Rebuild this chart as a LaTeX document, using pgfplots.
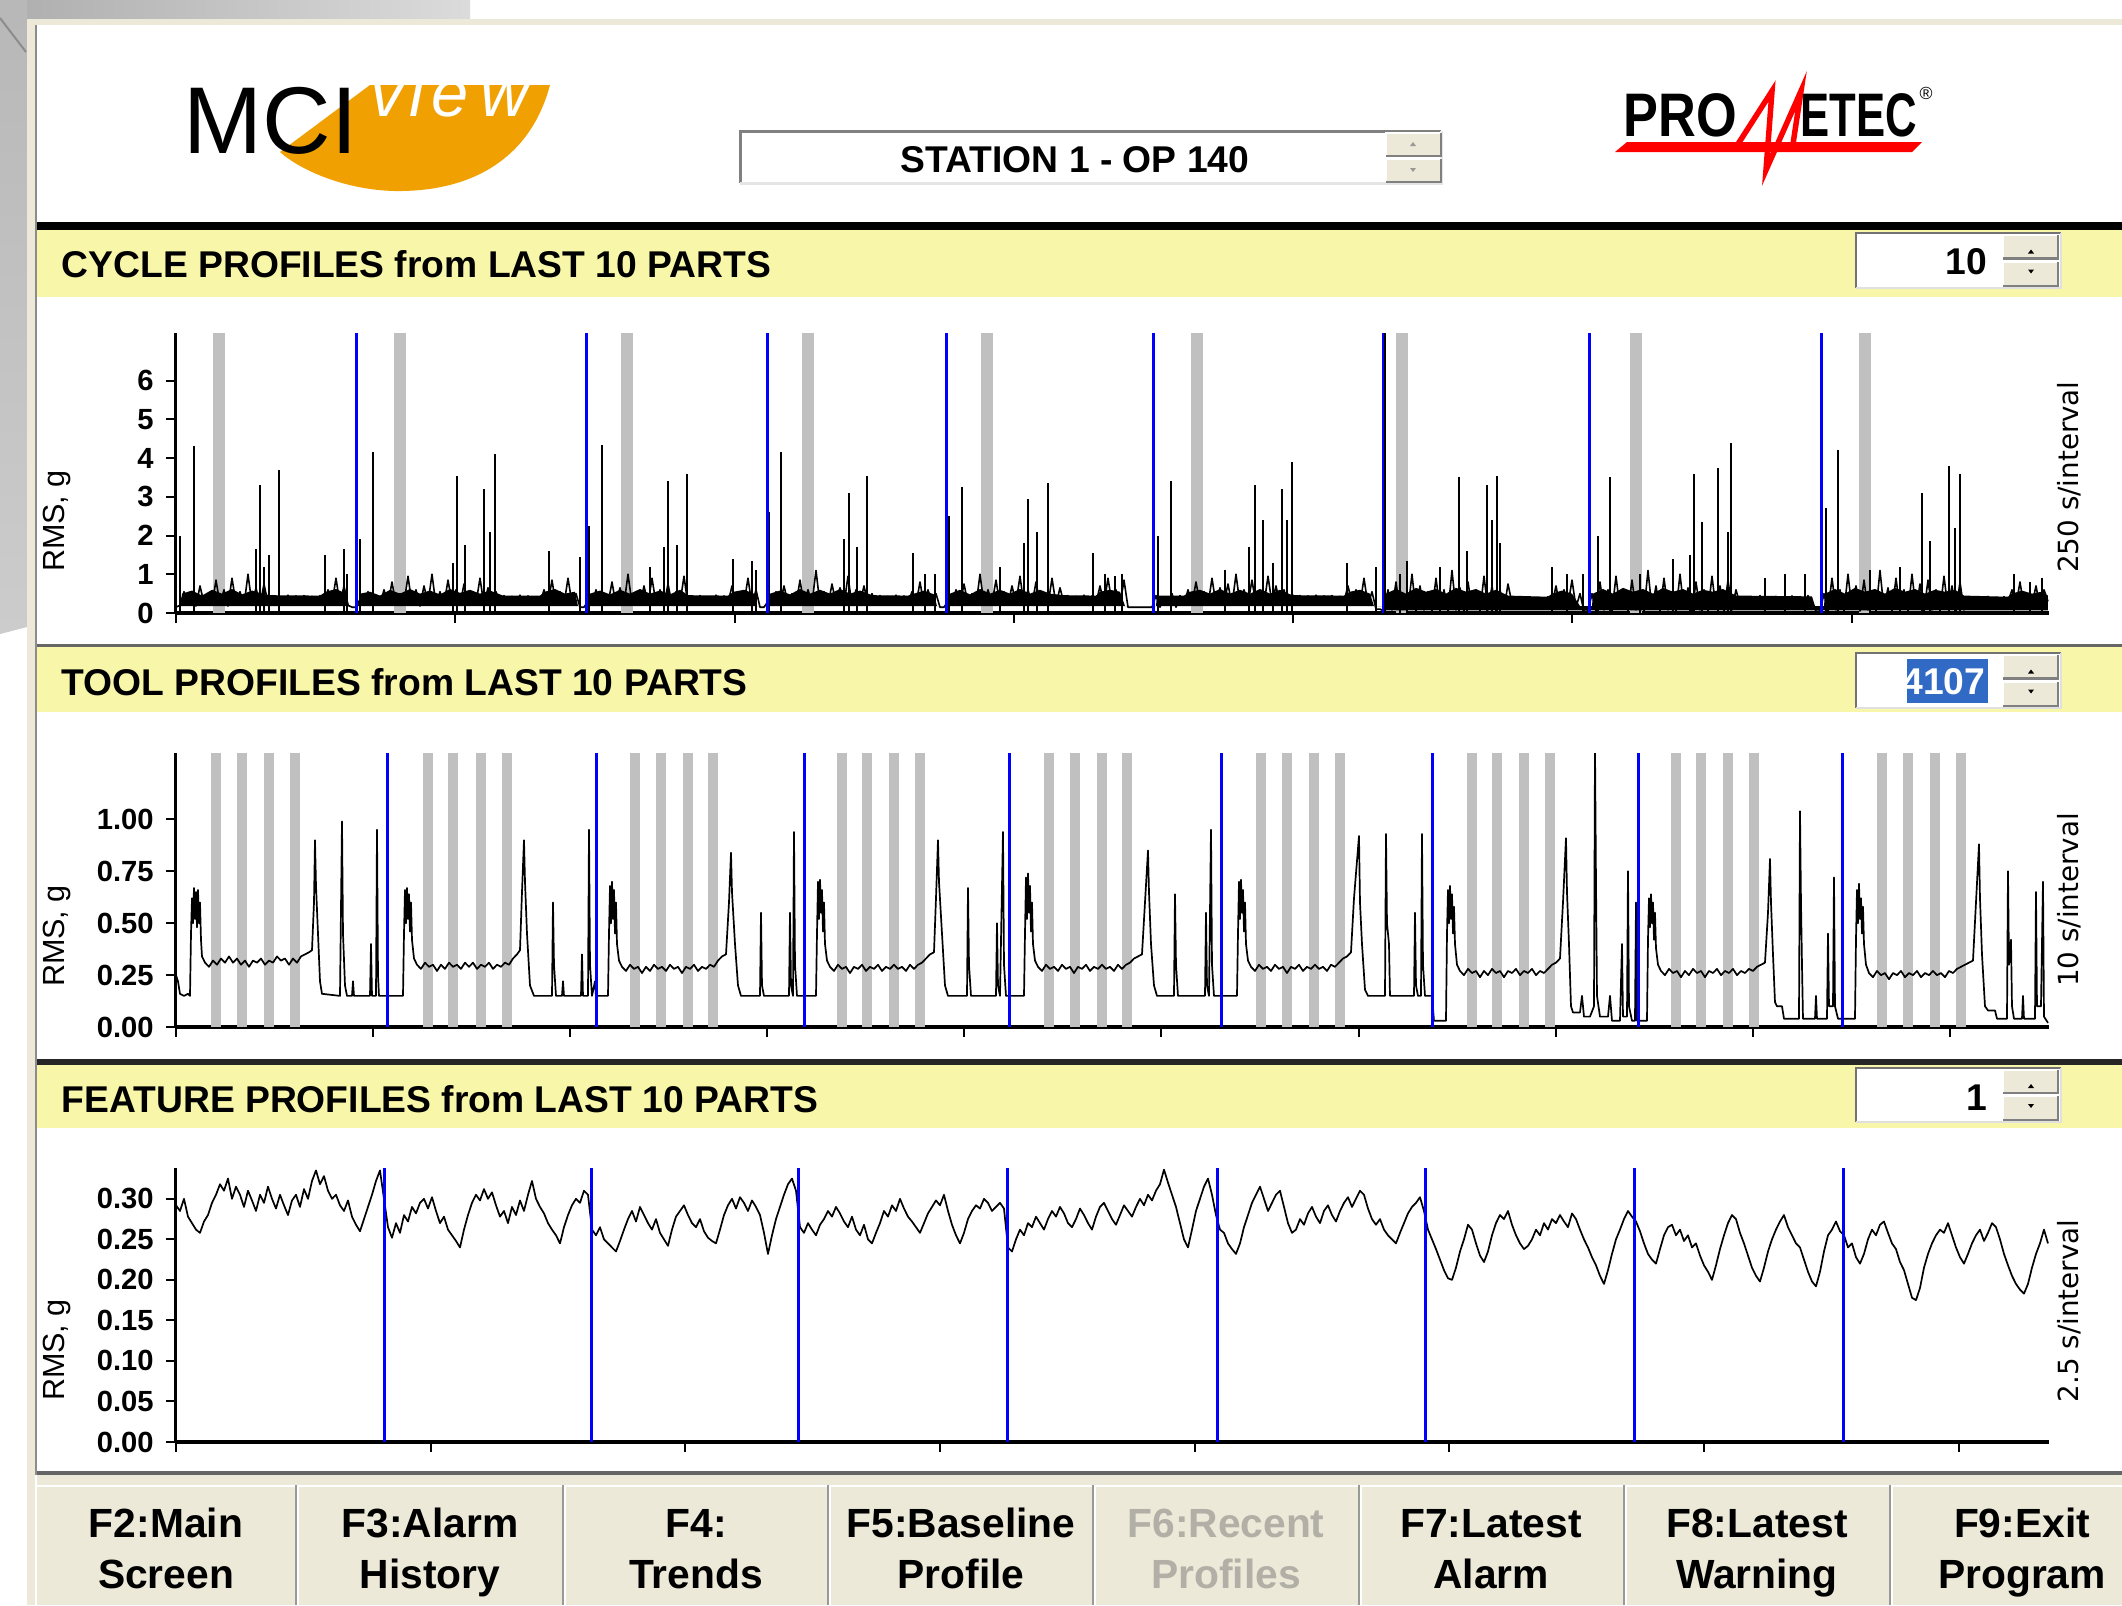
\documentclass[border=0pt]{standalone}
\usepackage{fontspec}
\setmainfont{Liberation Sans}
\newfontfamily\dejavu{DejaVu Sans}
\usepackage{pgfplots}
\pgfplotsset{compat=1.18}
\usepackage{pgfplotstable}
\definecolor{yband}{RGB}{248,246,168}
\definecolor{btn}{RGB}{236,233,216}
\definecolor{gbar}{RGB}{192,192,192}
\definecolor{logoorange}{RGB}{240,160,0}
\definecolor{selblue}{RGB}{49,106,197}
\definecolor{pblue}{RGB}{0,0,255}
\definecolor{dis}{RGB}{178,176,166}
\newcommand\titlefont{\fontsize{10.6pt}{12pt}\selectfont\bfseries}
\newcommand\ticfont{\fontsize{8.3pt}{9pt}\selectfont\bfseries}
\newcommand\lblfont{\fontsize{8.7pt}{10pt}\selectfont}
\newcommand\rfont{\dejavu\fontsize{7.9pt}{9pt}\selectfont}
\newcommand\btnfont{\fontsize{11.6pt}{13pt}\selectfont\bfseries}
\newcommand\spinbtn[3]{% x1 y1 y2
  \fill[btn] (#1,{#2}) rectangle ({#1+55},{#3});
  \draw[white,line width=0.2mm] (#1,{#3})--(#1,{#2})--({#1+55},{#2});
  \draw[black!50,line width=0.25mm] ({#1+55},{#2})--({#1+55},{#3})--(#1,{#3});}
\newcommand\spinbox[2]{% y1 y2
  \fill[white] (1856,#1) rectangle (2061,#2);
  \draw[black!55,line width=0.25mm] (1856,#2)--(1856,#1)--(2061,#1);
  \draw[black!12,line width=0.25mm] (2061,#1)--(2061,#2)--(1856,#2);
  \spinbtn{2003}{#1+2}{(#1+#2)/2-2}
  \spinbtn{2003}{(#1+#2)/2+1}{#2-2}
  \fill ({2031-3},{(#1+#2)/2-7})--({2031+3},{(#1+#2)/2-7})--(2031,{(#1+#2)/2-11})--cycle;
  \fill ({2031-3},{(#1+#2)/2+9})--({2031+3},{(#1+#2)/2+9})--(2031,{(#1+#2)/2+13})--cycle;}

\pgfplotstableread{
y
0.15
0.2
0.55
0.22
0.45
0.18
0.7
0.25
0.5
0.2
0.85
0.22
0.6
0.18
0.9
0.25
0.55
0.2
1.0
0.22
0.65
0.2
0.75
0.25
0.45
0.22
0.42
0.25
0.46
0.2
0.44
0.24
0.45
0.22
0.43
0.25
0.45
0.2
0.6
0.25
0.9
0.22
0.7
0.2
0.15
0.15
0.35
0.2
0.55
0.25
0.45
0.2
0.6
0.22
0.8
0.2
0.5
0.25
0.95
0.22
0.6
0.18
0.7
0.25
1.0
0.2
0.55
0.22
0.85
0.25
0.6
0.2
0.75
0.22
0.5
0.25
0.9
0.2
0.65
0.22
0.55
0.25
0.45
0.22
0.43
0.25
0.46
0.2
0.44
0.24
0.42
0.22
0.6
0.25
0.85
0.2
0.55
0.22
0.9
0.25
0.5
0.15
0.15
0.3
0.2
0.6
0.22
0.5
0.25
0.8
0.2
0.65
0.22
1.0
0.25
0.55
0.2
0.7
0.22
0.9
0.25
0.6
0.2
0.75
0.22
0.55
0.25
0.95
0.2
0.44
0.22
0.45
0.24
0.42
0.2
0.46
0.23
0.44
0.25
0.7
0.22
0.55
0.25
0.9
0.2
0.6
0.15
0.15
0.3
0.22
0.55
0.2
0.7
0.25
0.5
0.22
0.85
0.2
0.6
0.25
1.1
0.22
0.55
0.2
0.75
0.25
0.65
0.22
0.95
0.2
0.6
0.25
0.7
0.22
0.5
0.24
0.45
0.22
0.43
0.25
0.46
0.2
0.44
0.24
0.55
0.22
0.8
0.2
0.6
0.25
0.5
0.15
0.15
0.3
0.2
0.6
0.22
0.75
0.25
0.5
0.2
1.0
0.22
0.6
0.25
0.85
0.2
0.55
0.22
0.7
0.25
0.95
0.2
0.6
0.22
0.8
0.25
0.5
0.2
0.9
0.22
0.65
0.25
0.45
0.22
0.43
0.25
0.46
0.2
0.44
0.24
0.7
0.22
0.9
0.25
0.6
0.2
0.85
0.15
0.15
0.15
0.15
0.15
0.15
0.15
0.45
0.15
0.42
0.2
0.5
0.15
0.45
0.2
0.6
0.22
0.8
0.25
0.55
0.2
0.9
0.22
0.65
0.25
0.75
0.2
1.0
0.22
0.6
0.25
0.85
0.2
0.55
0.22
0.95
0.25
0.7
0.2
0.6
0.22
0.5
0.3
0.45
0.32
0.44
0.3
0.46
0.33
0.44
0.3
0.45
0.32
0.43
0.3
0.7
0.25
0.6
0.22
0.9
0.2
0.55
0.1
0.1
0.05
0.6
0.08
0.8
0.05
0.5
0.1
1.0
0.05
0.7
0.08
0.55
0.05
0.9
0.1
0.6
0.05
1.1
0.08
0.65
0.05
0.8
0.1
0.5
0.05
0.95
0.08
0.7
0.05
0.6
0.1
0.75
0.25
0.4
0.22
0.42
0.25
0.38
0.22
0.4
0.25
0.42
0.2
0.7
0.15
0.6
0.2
0.85
0.15
0.5
0.05
0.05
0.5
0.05
0.8
0.08
0.6
0.05
0.95
0.1
0.55
0.05
0.85
0.08
0.6
0.05
1.1
0.1
0.7
0.05
0.9
0.08
0.55
0.05
1.0
0.1
0.65
0.05
0.8
0.08
0.6
0.05
0.95
0.1
0.7
0.05
0.85
0.08
0.6
0.22
0.42
0.25
0.4
0.2
0.45
0.24
0.4
0.22
0.43
0.25
0.4
0.2
0.44
0.24
0.42
0.22
0.45
0.25
0.05
0.05
0.5
0.05
0.9
0.08
0.6
0.05
1.0
0.1
0.7
0.05
0.85
0.08
0.55
0.05
1.1
0.1
0.65
0.05
0.9
0.08
0.6
0.05
1.0
0.1
0.75
0.05
0.85
0.08
0.6
0.05
0.95
0.1
0.7
0.05
0.8
0.08
0.3
0.42
0.28
0.4
0.3
0.43
0.28
0.4
0.3
0.42
0.28
0.6
0.2
0.8
0.15
0.5
0.22
0.7
0.15
0.6
0.3
}\cyc

\pgfplotstableread{
y
0.292
0.285
0.300
0.278
0.270
0.262
0.258
0.272
0.280
0.295
0.305
0.318
0.310
0.325
0.300
0.315
0.305
0.290
0.310
0.298
0.285
0.305
0.295
0.315
0.300
0.288
0.305
0.292
0.280
0.298
0.305
0.290
0.312
0.300
0.322
0.335
0.318
0.328
0.310
0.300
0.305
0.292
0.285
0.298
0.278
0.268
0.260
0.275
0.290
0.305
0.322
0.335
0.300
0.265
0.252
0.270
0.258
0.280
0.272
0.290
0.282
0.295
0.300
0.288
0.302
0.285
0.270
0.278
0.262
0.255
0.248
0.240
0.262
0.280
0.295
0.305
0.298
0.312
0.300
0.308
0.292
0.278
0.285
0.270
0.290
0.280
0.298
0.285
0.305
0.322
0.300
0.290
0.282
0.270
0.262
0.255
0.245
0.265
0.280
0.292
0.300
0.295
0.310
0.305
0.262
0.255
0.265
0.250
0.245
0.240
0.235
0.248
0.262
0.275
0.285
0.272
0.290
0.280
0.270
0.262
0.275
0.258
0.250
0.242
0.262
0.278
0.285
0.292
0.280
0.270
0.265
0.275
0.260
0.252
0.248
0.245
0.262
0.280
0.292
0.300
0.288
0.302
0.295
0.285
0.298
0.290
0.280
0.258
0.232
0.255
0.275
0.290
0.305
0.318
0.325
0.310
0.265
0.258
0.270
0.262
0.255
0.268
0.275
0.285
0.278
0.290
0.282
0.272
0.265
0.278
0.262
0.255
0.268
0.250
0.245
0.258
0.270
0.285
0.278
0.292
0.285
0.300
0.288
0.278
0.272
0.265
0.258
0.270
0.282
0.290
0.298
0.292
0.305
0.285
0.268
0.255
0.245
0.258
0.275
0.285
0.292
0.288
0.300
0.295
0.285
0.290
0.295
0.288
0.240
0.235
0.250
0.262
0.255
0.270
0.265
0.278
0.270
0.262
0.275
0.285
0.278
0.290
0.282
0.270
0.265
0.275
0.288
0.280
0.270
0.262
0.278
0.290
0.295
0.285
0.275
0.268
0.280
0.292
0.285
0.278
0.290
0.300
0.292
0.305
0.298
0.310
0.318
0.336
0.320
0.305
0.290
0.270
0.250
0.240
0.262
0.285
0.300
0.315
0.325
0.305
0.280
0.262
0.258
0.245
0.238
0.232
0.245
0.265
0.280
0.295
0.305
0.315
0.300
0.285
0.295
0.305
0.310
0.290
0.270
0.258
0.262
0.275
0.268
0.282
0.290
0.278
0.270
0.285
0.292
0.280
0.272
0.285
0.295
0.302
0.290
0.300
0.310
0.305
0.288
0.275
0.268
0.275
0.262
0.255
0.250
0.245
0.258
0.270
0.282
0.290
0.295
0.302
0.285
0.262
0.250
0.238
0.225
0.212
0.202
0.200
0.215
0.235
0.250
0.268
0.262
0.245
0.230
0.222
0.235
0.255
0.270
0.280
0.275
0.285
0.268
0.255
0.245
0.238
0.242
0.250
0.262
0.255
0.270
0.262
0.275
0.270
0.280
0.272
0.265
0.282
0.275
0.262
0.250
0.240
0.228
0.218
0.205
0.195
0.212
0.232
0.250
0.262
0.275
0.285
0.278
0.272
0.260
0.245
0.232
0.225
0.220
0.238
0.255
0.265
0.268
0.255
0.262
0.248
0.255
0.240
0.245
0.230
0.218
0.210
0.200
0.218
0.238
0.255
0.270
0.280
0.275
0.258
0.245
0.230
0.215
0.205
0.198
0.215
0.235
0.250
0.262
0.272
0.280
0.265
0.255
0.245
0.240
0.225
0.210
0.198
0.192
0.210
0.235
0.255
0.262
0.272
0.260
0.255
0.240
0.245
0.228
0.220
0.232
0.250
0.262
0.255
0.268
0.272
0.258
0.245
0.238
0.222
0.212
0.195
0.178
0.175
0.190
0.215
0.232
0.245
0.255
0.262
0.258
0.270
0.255
0.240
0.228
0.220
0.232
0.245
0.255
0.262
0.248
0.258
0.270
0.265
0.250
0.232
0.218
0.205
0.195
0.188
0.183
0.195
0.215
0.232
0.245
0.262
0.245
}\feat

\pgfplotsset{panel/.style={
  scale only axis, width=187.3mm, anchor=south west,
  xmin=176, xmax=2049, ymin=0,
  axis x line=bottom, axis y line=left,
  axis line style={-, black},
  x axis line style={line width=0.45mm},
  y axis line style={line width=0.3mm},
  tick align=outside, major tick length=1mm,
  every tick/.style={black, line width=0.2mm},
  xticklabels={},
  yticklabel style={font=\ticfont},
  /pgf/number format/assume math mode=true,
  clip=true,
}}

\begin{document}
\begin{tikzpicture}
\begin{scope}[x=0.1mm,y=-0.1mm]
\useasboundingbox (0,0) rectangle (2122,1605);
\fill[white] (0,0) rectangle (2122,1605);
% desktop
\shade[left color=black!32, right color=black!14] (0,0) rectangle (470,20);
\shade[top color=black!28, bottom color=black!20] (0,0) -- (27,0) -- (27,627) -- (0,634) -- cycle;
\draw[black!45, line width=0.2mm] (0,18) -- (26,52);
% window frame
\fill[btn] (27,19) rectangle (2122,25);
\fill[btn] (27,19) rectangle (35,1605);
\fill[black!45] (35,25) rectangle (37,1475);
% header
\fill[black] (37,222) rectangle (2122,230);
\fill[yband] (37,230) rectangle (2122,297);
\fill[black!60] (37,644) rectangle (2122,647);
\fill[yband] (37,647) rectangle (2122,712);
\fill[black!85] (37,1059) rectangle (2122,1065);
\fill[yband] (37,1065) rectangle (2122,1128);
\fill[black!60] (37,1471) rectangle (2122,1475);
\fill[btn] (37,1475) rectangle (2122,1605);
\draw[white, line width=0.2mm] (37,1486) -- (2122,1486);
\foreach \s in {296,563,828,1093,1359,1624,1890}{
  \draw[black!40, line width=0.2mm] (\s,1485) -- (\s,1605);
  \draw[white, line width=0.2mm] ({\s+2},1485) -- ({\s+2},1605);}
% MCIview logo
\fill[logoorange] (550,85) .. controls (530,160) and (470,192) .. (395,191)
   .. controls (345,190) and (300,170) .. (280,152) -- (370,85) -- cycle;
\node[anchor=base west, inner sep=0, font=\fontsize{27pt}{27pt}\selectfont] at (183,153) {MCI};
\begin{scope}[every node/.style={anchor=base, inner sep=0, text=white, font=\fontsize{19pt}{19pt}\selectfont\itshape}]
\node at (387,116) {v};
\node at (417,116) {i};
\node at (450,116) {e};
\node at (505,116) {w};
\end{scope}
% PROMETEC logo
\fill[red] (1615,152) -- (1627,142) -- (1922,142) -- (1912,152) -- cycle;
\draw[red, line width=0.55mm, line join=miter] (1738,144) -- (1772,91) -- (1766,170) -- (1801,91) -- (1793,144);
\node[anchor=base west, inner sep=0, font=\fontsize{17.5pt}{18pt}\selectfont\bfseries] at (1623,136) {\scalebox{0.85}[1]{PRO}};
\node[anchor=base west, inner sep=0, font=\fontsize{17.5pt}{18pt}\selectfont\bfseries] at (1800,136) {\scalebox{0.71}[1]{ETEC}};
\node[anchor=center, inner sep=0, font=\fontsize{5pt}{5pt}\selectfont] at (1926,93) {\textregistered};
% station box
\fill[white] (740,131) rectangle (1441,183);
\draw[black!50, line width=0.3mm] (740,183) -- (740,131) -- (1441,131);
\draw[black!10, line width=0.3mm] (1441,131) -- (1441,183) -- (740,183);
\spinbtn{1386}{133}{156}
\spinbtn{1386}{159}{182}
\fill[black!40] (1410,146)--(1416,146)--(1413,142)--cycle;
\fill[black!40] (1410,168)--(1416,168)--(1413,172)--cycle;
\node[anchor=base, inner sep=0, font=\titlefont] at (1075,172) {STATION 1 - OP 140};
% titles
\node[anchor=base west, inner sep=0, font=\titlefont] at (61,277) {CYCLE PROFILES from LAST 10 PARTS};
\node[anchor=base west, inner sep=0, font=\titlefont] at (61,695) {TOOL PROFILES from LAST 10 PARTS};
\node[anchor=base west, inner sep=0, font=\titlefont] at (61,1112) {FEATURE PROFILES from LAST 10 PARTS};
% spin boxes
\spinbox{233}{288}
\node[anchor=base east, inner sep=0, font=\titlefont] at (1988,274) {10};
\spinbox{653}{708}
\fill[selblue] (1907,659) rectangle (1988,703);
\node[anchor=base east, inner sep=0, font=\titlefont, text=white] at (1986,694) {4107};
\spinbox{1068}{1122}
\node[anchor=base east, inner sep=0, font=\titlefont] at (1988,1110) {1};
% side labels
\node[rotate=90, font=\lblfont] at (57,521) {RMS, g};
\node[rotate=90, font=\lblfont] at (57,936) {RMS, g};
\node[rotate=90, font=\lblfont] at (57,1350) {RMS, g};
\node[rotate=90, font=\rfont] at (2069,477) {250 s/interval};
\node[rotate=90, font=\rfont] at (2069,900) {10 s/interval};
\node[rotate=90, font=\rfont] at (2069,1311) {2.5 s/interval};
% buttons
\begin{scope}[every node/.style={anchor=base, inner sep=0, font=\btnfont}]
\node at (166,1537) {F2:Main}; \node at (166,1588) {Screen};
\node at (430,1537) {F3:Alarm}; \node at (430,1588) {History};
\node at (696,1537) {F4:}; \node at (696,1588) {Trends};
\node at (961,1537) {F5:Baseline}; \node at (961,1588) {Profile};
\node[text=dis] at (1226,1537) {F6:Recent}; \node[text=dis] at (1226,1588) {Profiles};
\node at (1491,1537) {F7:Latest}; \node at (1491,1588) {Alarm};
\node at (1757,1537) {F8:Latest}; \node at (1757,1588) {Warning};
\node at (2022,1537) {F9:Exit}; \node at (2022,1588) {Program};
\end{scope}
\end{scope}

% ---------- CYCLE panel ----------
\begin{axis}[panel, at={(17.6mm,-61.3mm)}, height=28mm, ymax=7.23,
  ytick={0,1,2,3,4,5,6},
  xtick={176,455.3,734.6,1013.9,1293.2,1572.5,1851.8}]
\addplot[ycomb, draw=gbar, line width=1.2mm, no markers] coordinates {
(219,7.23) (400,7.23) (627,7.23) (808,7.23) (987,7.23) (1197,7.23) (1402,7.23) (1636,7.23) (1865,7.23)};
% dense core of the cycle signal
\addplot[fill=black, draw=none, no markers] coordinates {
(181,0.18) (182,0.5) (192,0.58) (202,0.45) (212,0.6) (222,0.5) (232,0.62) (242,0.48) (252,0.58) (262,0.5) (270,0.46) (320,0.45) (326,0.55) (336,0.62) (346,0.5) (349,0.18)
(358,0.18) (360,0.5) (370,0.55) (380,0.45) (390,0.6) (400,0.5) (410,0.62) (420,0.5) (430,0.58) (440,0.48) (450,0.62) (460,0.52) (470,0.6) (480,0.5) (490,0.58) (500,0.48) (503,0.45) (540,0.45) (545,0.55) (555,0.62) (565,0.5) (575,0.55) (578,0.18)
(588,0.18) (590,0.5) (600,0.58) (610,0.48) (620,0.6) (630,0.5) (640,0.62) (650,0.5) (660,0.58) (670,0.48) (680,0.6) (688,0.46) (728,0.45) (734,0.55) (744,0.6) (754,0.5) (757,0.18)
(768,0.18) (770,0.5) (780,0.58) (790,0.48) (800,0.62) (810,0.5) (820,0.6) (830,0.5) (840,0.62) (850,0.5) (860,0.58) (872,0.46) (908,0.45) (914,0.5) (924,0.58) (934,0.48) (937,0.18)
(948,0.18) (950,0.5) (960,0.6) (970,0.48) (980,0.62) (990,0.5) (1000,0.6) (1010,0.5) (1020,0.62) (1030,0.5) (1040,0.6) (1050,0.5) (1064,0.46) (1096,0.45) (1100,0.55) (1110,0.6) (1120,0.55) (1125,0.18)
(1156,0.18) (1157,0.45) (1184,0.45) (1190,0.55) (1200,0.6) (1210,0.5) (1220,0.62) (1230,0.5) (1240,0.6) (1250,0.5) (1260,0.62) (1270,0.5) (1280,0.6) (1292,0.46) (1344,0.45) (1350,0.55) (1360,0.6) (1370,0.5) (1374,0.18)
(1385,0.18) (1386,0.5) (1396,0.62) (1406,0.5) (1416,0.65) (1426,0.55) (1436,0.62) (1446,0.5) (1456,0.65) (1466,0.55) (1476,0.62) (1486,0.5) (1496,0.6) (1508,0.45) (1548,0.42) (1552,0.5) (1562,0.58) (1572,0.5) (1580,0.18)
(1592,0.18) (1593,0.5) (1603,0.62) (1613,0.5) (1623,0.65) (1633,0.55) (1643,0.62) (1653,0.5) (1663,0.65) (1673,0.55) (1683,0.62) (1693,0.5) (1703,0.6) (1713,0.55) (1723,0.62) (1736,0.45) (1812,0.43) (1815,0.18)
(1824,0.18) (1825,0.5) (1835,0.62) (1845,0.5) (1855,0.65) (1865,0.55) (1875,0.62) (1885,0.5) (1895,0.65) (1905,0.55) (1915,0.62) (1925,0.5) (1935,0.6) (1945,0.55) (1955,0.6) (1964,0.45) (2008,0.42) (2012,0.5) (2022,0.58) (2032,0.5) (2042,0.55) (2048,0.45)
(2048,0.07) (1386,0.07) (1386,0.18)};
\addplot[black, line width=0.16mm, line join=round, no markers] table[x expr=176+4*\coordindex, y=y] {\cyc};
\addplot[ycomb, black, line width=0.16mm, no markers] coordinates {
(180,2.0) (194,4.3) (256,1.65) (260,3.3) (264,1.2) (269,1.5) (279,3.7) (325,1.5) (344,1.65) (347,1.0)
(360,1.9) (373,4.15) (453,1.3) (457,3.55) (465,1.75) (484,3.2) (490,2.1) (495,4.1) (549,1.6) (580,1.45)
(589,2.25) (602,4.35) (650,1.2) (664,1.7) (668,3.4) (677,1.75) (687,3.6) (733,1.4) (752,1.35) (756,1.1)
(769,2.6) (781,4.15) (844,1.9) (849,3.1) (857,1.7) (867,3.55) (913,1.55) (925,1.0) (935,1.0)
(949,2.5) (962,3.25) (1000,1.2) (1024,1.8) (1028,2.95) (1037,2.1) (1048,3.35) (1093,1.55) (1105,1.0) (1115,0.95) (1122,1.0)
(1158,2.0) (1171,3.4) (1225,1.1) (1249,1.7) (1255,3.3) (1263,2.4) (1273,1.3) (1282,3.2) (1287,2.4) (1292,3.9) (1347,1.3) (1376,1.2)
(1400,1.0) (1407,1.35) (1440,1.2) (1459,3.5) (1467,1.6) (1487,3.3) (1492,2.4) (1497,3.55) (1500,1.8) (1552,1.2) (1567,1.0) (1583,1.0)
(1598,2.0) (1610,3.5) (1640,1.0) (1673,1.4) (1690,1.5) (1694,3.6) (1702,2.35) (1718,3.75) (1728,2.1) (1731,4.4) (1765,0.9) (1785,1.0) (1805,1.0)
(1826,2.7) (1838,4.2) (1870,1.1) (1900,1.2) (1922,3.1) (1930,1.85) (1949,3.8) (1955,2.2) (1960,3.6) (2014,1.0) (2030,0.8) (2042,0.9)};
\addplot[ycomb, draw=pblue, line width=0.3mm, no markers] coordinates {
(357,7.23) (587,7.23) (768,7.23) (947,7.23) (1154,7.23) (1384,7.23) (1590,7.23) (1822,7.23)};
\addplot[ycomb, black, line width=0.18mm, no markers] coordinates {(1385,7.23)};
\end{axis}

% ---------- TOOL panel ----------
\begin{axis}[panel, at={(17.6mm,-102.7mm)}, height=27.4mm, ymax=1.32,
  ytick={0,0.25,0.5,0.75,1},
  yticklabel style={/pgf/number format/.cd, fixed, fixed zerofill, precision=2},
  xtick={176,373.1,570.2,767.3,964.4,1161.5,1358.6,1555.7,1752.8,1949.9}]
\addplot[ycomb, draw=gbar, line width=1.0mm, no markers] coordinates {
(216,1.32) (242,1.32) (269,1.32) (295,1.32) (428,1.32) (453,1.32) (481,1.32) (507,1.32)
(635,1.32) (661,1.32) (688,1.32) (713,1.32) (842,1.32) (867,1.32) (894,1.32) (920,1.32)
(1049,1.32) (1075,1.32) (1102,1.32) (1127,1.32) (1261,1.32) (1287,1.32) (1314,1.32) (1340,1.32)
(1472,1.32) (1497,1.32) (1524,1.32) (1550,1.32) (1676,1.32) (1701,1.32) (1728,1.32) (1754,1.32)
(1882,1.32) (1908,1.32) (1935,1.32) (1961,1.32)};
\addplot[black, line width=0.17mm, line join=round, no markers] coordinates {
(176,0.25) (178,0.22) (180,0.16) (184,0.15) (188,0.16) (190,0.15)
(191,0.45) (192,0.62) (193,0.5) (194,0.67) (195,0.52) (196,0.65) (197,0.48) (198,0.66) (199,0.5) (200,0.6) (201,0.42) (202,0.34)
(205,0.31) (209,0.29) (213,0.32) (217,0.3) (221,0.33) (225,0.31) (229,0.34) (233,0.31) (237,0.33) (241,0.3) (245,0.32) (249,0.29) (253,0.32) (257,0.31) (261,0.33) (265,0.3) (269,0.32) (273,0.31) (277,0.34) (281,0.32) (285,0.33) (289,0.3) (293,0.33) (297,0.31) (301,0.34) (305,0.35) (309,0.36) (312,0.37)
(314,0.6) (315,0.9) (316,0.68) (318,0.45) (320,0.22) (322,0.16)
(340,0.15) (342,0.99) (343,0.45) (345,0.2) (347,0.15) (352,0.15) (353,0.22) (354,0.15) (370,0.15) (371,0.4) (372,0.15) (376,0.15) (377,0.95) (378,0.25) (379,0.15) (403,0.15)
(404,0.45) (405,0.66) (406,0.5) (407,0.67) (408,0.52) (409,0.64) (410,0.46) (411,0.6) (412,0.42) (414,0.33)
(417,0.3) (421,0.28) (425,0.31) (429,0.29) (433,0.3) (437,0.27) (441,0.3) (445,0.28) (449,0.31) (453,0.29) (457,0.3) (461,0.28) (465,0.31) (469,0.29) (473,0.31) (477,0.28) (481,0.3) (485,0.29) (489,0.31) (493,0.28) (497,0.3) (501,0.29) (505,0.31) (509,0.3) (513,0.33) (517,0.35) (520,0.37)
(522,0.65) (524,0.9) (525,0.7) (527,0.45) (530,0.2) (534,0.15)
(552,0.15) (553,0.6) (554,0.3) (556,0.15) (562,0.15) (563,0.22) (564,0.15) (581,0.15) (582,0.35) (583,0.15) (588,0.15) (589,0.95) (590,0.3) (592,0.15) (595,0.22) (596,0.15) (608,0.15)
(609,0.45) (610,0.68) (611,0.5) (612,0.7) (613,0.52) (614,0.66) (615,0.45) (616,0.6) (617,0.4) (619,0.32)
(622,0.29) (626,0.27) (630,0.3) (634,0.28) (638,0.29) (642,0.26) (646,0.29) (650,0.27) (654,0.3) (658,0.28) (662,0.29) (666,0.27) (670,0.3) (674,0.28) (678,0.29) (682,0.26) (686,0.29) (690,0.28) (694,0.3) (698,0.27) (702,0.29) (706,0.28) (710,0.3) (714,0.29) (718,0.32) (722,0.34) (726,0.35)
(729,0.6) (731,0.84) (732,0.65) (735,0.4) (738,0.2) (741,0.15)
(760,0.15) (761,0.55) (762,0.2) (764,0.15) (789,0.15) (790,0.55) (791,0.2) (793,0.15) (794,0.94) (795,0.3) (797,0.15) (816,0.15)
(817,0.45) (818,0.7) (819,0.52) (820,0.71) (821,0.55) (822,0.66) (823,0.46) (824,0.6) (825,0.4) (827,0.32)
(830,0.29) (834,0.27) (838,0.3) (842,0.28) (846,0.29) (850,0.26) (854,0.29) (858,0.28) (862,0.3) (866,0.27) (870,0.29) (874,0.28) (878,0.3) (882,0.27) (886,0.29) (890,0.28) (894,0.3) (898,0.28) (902,0.29) (906,0.27) (910,0.3) (914,0.28) (918,0.3) (922,0.31) (926,0.33) (930,0.35) (934,0.36)
(936,0.62) (938,0.9) (939,0.7) (942,0.45) (945,0.2) (948,0.15)
(967,0.15) (968,0.67) (969,0.3) (971,0.15) (996,0.15) (997,0.5) (998,0.2) (1000,0.15) (1003,0.94) (1004,0.3) (1006,0.15) (1024,0.15)
(1025,0.45) (1026,0.72) (1027,0.52) (1028,0.74) (1029,0.55) (1030,0.68) (1031,0.46) (1032,0.6) (1033,0.4) (1035,0.32)
(1038,0.29) (1042,0.27) (1046,0.3) (1050,0.28) (1054,0.29) (1058,0.27) (1062,0.3) (1066,0.28) (1070,0.29) (1074,0.26) (1078,0.29) (1082,0.28) (1086,0.3) (1090,0.27) (1094,0.29) (1098,0.28) (1102,0.3) (1106,0.28) (1110,0.29) (1114,0.27) (1118,0.3) (1122,0.28) (1126,0.3) (1130,0.31) (1134,0.33) (1138,0.34) (1142,0.35)
(1145,0.6) (1148,0.85) (1149,0.65) (1151,0.4) (1154,0.2) (1157,0.15)
(1174,0.15) (1175,0.64) (1176,0.3) (1178,0.15) (1205,0.15) (1206,0.55) (1207,0.2) (1209,0.15) (1211,0.95) (1212,0.3) (1214,0.15) (1237,0.15)
(1238,0.45) (1239,0.7) (1240,0.52) (1241,0.71) (1242,0.55) (1243,0.66) (1244,0.46) (1245,0.6) (1246,0.4) (1248,0.32)
(1251,0.29) (1255,0.27) (1259,0.3) (1263,0.28) (1267,0.29) (1271,0.27) (1275,0.3) (1279,0.28) (1283,0.29) (1287,0.26) (1291,0.29) (1295,0.28) (1299,0.3) (1303,0.27) (1307,0.29) (1311,0.28) (1315,0.3) (1319,0.28) (1323,0.29) (1327,0.27) (1331,0.3) (1335,0.29) (1339,0.31) (1343,0.33) (1347,0.34) (1351,0.36)
(1354,0.62) (1359,0.92) (1360,0.6) (1362,0.4) (1365,0.18) (1368,0.15)
(1385,0.15) (1386,0.93) (1387,0.5) (1389,0.4) (1390,0.15) (1414,0.15) (1415,0.55) (1416,0.2) (1418,0.15) (1421,0.15) (1422,0.93) (1423,0.3) (1425,0.15) (1432,0.15) (1434,0.03) (1446,0.03)
(1447,0.45) (1448,0.66) (1449,0.5) (1450,0.68) (1451,0.52) (1452,0.64) (1453,0.45) (1454,0.58) (1455,0.4) (1457,0.3)
(1460,0.27) (1464,0.25) (1468,0.28) (1472,0.26) (1476,0.27) (1480,0.24) (1484,0.27) (1488,0.25) (1492,0.28) (1496,0.26) (1500,0.27) (1504,0.24) (1508,0.27) (1512,0.26) (1516,0.28) (1520,0.25) (1524,0.27) (1528,0.26) (1532,0.28) (1536,0.25) (1540,0.27) (1544,0.26) (1548,0.28) (1552,0.3) (1556,0.31) (1560,0.33)
(1563,0.6) (1566,0.91) (1567,0.65) (1569,0.4) (1571,0.1) (1573,0.07) (1580,0.07)
(1582,0.15) (1584,0.05) (1590,0.05) (1594,0.1) (1595,1.35) (1596,0.7) (1597,0.15) (1600,0.05) (1608,0.05) (1610,0.15) (1612,0.03) (1620,0.03) (1622,0.4) (1623,0.05) (1627,0.05) (1628,0.75) (1629,0.1) (1632,0.03) (1635,0.03) (1636,0.6) (1637,0.03) (1647,0.03)
(1648,0.42) (1649,0.62) (1650,0.48) (1651,0.64) (1652,0.5) (1653,0.6) (1654,0.42) (1655,0.55) (1656,0.38) (1658,0.3)
(1661,0.27) (1665,0.25) (1669,0.28) (1673,0.26) (1677,0.27) (1681,0.24) (1685,0.27) (1689,0.25) (1693,0.28) (1697,0.26) (1701,0.27) (1705,0.24) (1709,0.27) (1713,0.26) (1717,0.28) (1721,0.25) (1725,0.27) (1729,0.26) (1733,0.28) (1737,0.25) (1741,0.27) (1745,0.26) (1749,0.28) (1753,0.27) (1757,0.29) (1761,0.3) (1765,0.31)
(1768,0.55) (1770,0.81) (1771,0.6) (1773,0.35) (1775,0.12) (1777,0.1) (1782,0.1)
(1784,0.04) (1799,0.04) (1800,1.04) (1801,0.6) (1802,0.3) (1803,0.04) (1815,0.04) (1816,0.15) (1817,0.04) (1827,0.04) (1828,0.45) (1829,0.1) (1833,0.1) (1834,0.72) (1835,0.1) (1838,0.04) (1855,0.04)
(1856,0.42) (1857,0.66) (1858,0.5) (1859,0.69) (1860,0.52) (1861,0.62) (1862,0.45) (1863,0.58) (1864,0.4) (1866,0.3)
(1869,0.26) (1873,0.24) (1877,0.27) (1881,0.25) (1885,0.26) (1889,0.23) (1893,0.26) (1897,0.25) (1901,0.27) (1905,0.24) (1909,0.26) (1913,0.25) (1917,0.27) (1921,0.24) (1925,0.26) (1929,0.25) (1933,0.27) (1937,0.25) (1941,0.26) (1945,0.24) (1949,0.27) (1953,0.26) (1957,0.28) (1961,0.29) (1965,0.3) (1969,0.31) (1973,0.32)
(1976,0.6) (1979,0.88) (1980,0.62) (1982,0.35) (1985,0.1) (1988,0.08) (1995,0.08)
(1997,0.04) (2007,0.04) (2008,0.75) (2009,0.3) (2011,0.42) (2012,0.1) (2014,0.04) (2022,0.04) (2023,0.15) (2024,0.04) (2035,0.04) (2036,0.65) (2037,0.1) (2041,0.1) (2043,0.7) (2044,0.05) (2048,0.02)};
\addplot[ycomb, draw=pblue, line width=0.3mm, no markers] coordinates {
(388,1.32) (597,1.32) (805,1.32) (1010,1.32) (1222,1.32) (1433,1.32) (1639,1.32) (1843,1.32)};
\end{axis}

% ---------- FEATURE panel ----------
\begin{axis}[panel, at={(17.6mm,-144.2mm)}, height=27.4mm, ymax=0.338,
  ytick={0,0.05,0.1,0.15,0.2,0.25,0.3},
  yticklabel style={/pgf/number format/.cd, fixed, fixed zerofill, precision=2},
  xtick={176,430.7,685.4,940.1,1194.8,1449.5,1704.2,1958.9}]
\addplot[black, line width=0.17mm, line join=round, no markers] table[x expr=176+4*\coordindex, y=y] {\feat};
\addplot[ycomb, draw=pblue, line width=0.3mm, no markers] coordinates {
(385,0.338) (592,0.338) (799,0.338) (1008,0.338) (1218,0.338) (1426,0.338) (1635,0.338) (1844,0.338)};
\end{axis}
\end{tikzpicture}
\end{document}
